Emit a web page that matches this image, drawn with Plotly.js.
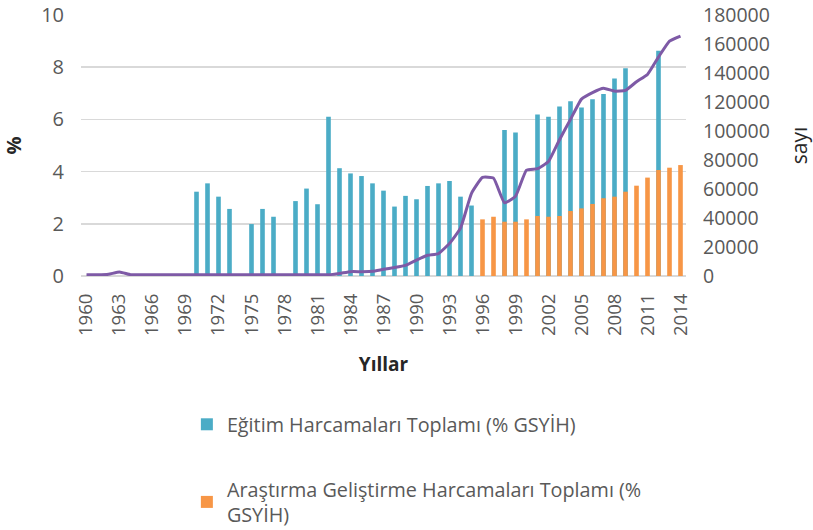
<!DOCTYPE html>
<html>
<head>
<meta charset="utf-8">
<script src="https://cdn.plot.ly/plotly-3.0.1.min.js"></script>
<style>
  html, body { margin: 0; padding: 0; background: #ffffff; }
  #chart { width: 813px; height: 530px; }
</style>
</head>
<body>
<div id="chart"></div>
<script>
// ---- data ----
const years = [
  1960, 1961, 1962, 1963, 1964, 1965, 1966, 1967, 1968, 1969,
  1970, 1971, 1972, 1973, 1974, 1975, 1976, 1977, 1978, 1979,
  1980, 1981, 1982, 1983, 1984, 1985, 1986, 1987, 1988, 1989,
  1990, 1991, 1992, 1993, 1994, 1995, 1996, 1997, 1998, 1999,
  2000, 2001, 2002, 2003, 2004, 2005, 2006, 2007, 2008, 2009,
  2010, 2011, 2012, 2013, 2014
];

// Eğitim Harcamaları Toplamı (% GSYİH)
const egitim = [
  null, null, null, null, null, null, null, null, null, null,
  3.23, 3.55, 3.04, 2.57, null, 1.99, 2.57, 2.27, null, 2.87,
  3.35, 2.75, 6.10, 4.13, 3.93, 3.83, 3.55, 3.27, 2.66, 3.07,
  2.94, 3.45, 3.55, 3.64, 3.04, 2.70, null, null, 5.59, 5.50,
  null, 6.19, 6.10, 6.49, 6.70, 6.46, 6.77, 6.97, 7.57, 7.96,
  null, null, 8.63, null, null
];

// Araştırma Geliştirme Harcamaları Toplamı (% GSYİH)
const arge = [
  null, null, null, null, null, null, null, null, null, null,
  null, null, null, null, null, null, null, null, null, null,
  null, null, null, null, null, null, null, null, null, null,
  null, null, null, null, null, null, 2.17, 2.27, 2.08, 2.08,
  2.17, 2.30, 2.27, 2.30, 2.49, 2.59, 2.76, 2.98, 3.04, 3.23,
  3.46, 3.77, 4.06, 4.15, 4.25
];

// sayı (right axis)
const sayi = [
  800, 800, 1200, 2800, 900, 800, 800, 800, 800, 800,
  800, 800, 800, 800, 800, 800, 800, 800, 800, 800,
  800, 800, 900, 1800, 3000, 3000, 3200, 4600, 5800, 7300,
  11000, 14300, 15500, 22500, 33000, 57000, 68000, 67500, 50500, 55000,
  73000, 74000, 79000, 94000, 108000, 122000, 126500, 129500, 127500, 128000,
  134000, 139000, 151000, 162000, 165500
];

const nameEgitim = 'Eğitim Harcamaları Toplamı (% GSYİH)';
const nameArge = 'Araştırma Geliştirme Harcamaları Toplamı (%<br>GSYİH)';
const nameSayi = 'sayı';

// ---- chart ----
const FONT = '"Open Sans", "Liberation Sans", sans-serif';
const TICKCOL = '#595959';
const TITLECOL = '#262626';

const traces = [
  {
    type: 'bar', x: years, y: egitim, name: nameEgitim,
    marker: { color: '#4BACC6' }, width: 0.42,
    legendgroup: 'a', yaxis: 'y'
  },
  {
    type: 'bar', x: years, y: arge, name: nameArge,
    marker: { color: '#F79646' }, width: 0.42,
    legendgroup: 'b', yaxis: 'y'
  },
  {
    type: 'scatter', mode: 'lines', x: years, y: sayi, name: nameSayi,
    line: { color: '#7E5AA6', width: 3, shape: 'spline', smoothing: 0.4 },
    yaxis: 'y2', showlegend: false, connectgaps: true
  }
];

const layout = {
  width: 813, height: 530,
  margin: { l: 81, r: 127, t: 15, b: 254, autoexpand: false },
  paper_bgcolor: '#ffffff', plot_bgcolor: '#ffffff',
  font: { family: FONT, size: 18, color: TICKCOL },
  barmode: 'overlay',
  xaxis: {
    range: [1959.5, 2014.5],
    tickmode: 'linear', tick0: 1960, dtick: 3,
    tickangle: -90,
    showgrid: false, zeroline: false,
    showline: false, ticks: '',
    ticklabelstandoff: 13,
    automargin: false,
    tickfont: { family: FONT, size: 18.5, color: TICKCOL },
    title: { text: 'Yıllar', font: { family: FONT, size: 19, color: TITLECOL, weight: 'bold' }, standoff: 22 }
  },
  yaxis: {
    range: [0, 10], dtick: 2,
    showgrid: true, gridcolor: '#D9D9D9', gridwidth: 1.5,
    zeroline: true, zerolinecolor: '#D9D9D9', zerolinewidth: 1.5,
    ticks: '', ticklabelstandoff: 16,
    automargin: false,
    tickfont: { family: FONT, size: 20, color: TICKCOL },
    title: { text: '%', font: { family: FONT, size: 20, color: TITLECOL, weight: 'bold' }, standoff: 14 }
  },
  yaxis2: {
    overlaying: 'y', side: 'right',
    range: [0, 180000], dtick: 20000, tickformat: 'd',
    showgrid: false, zeroline: false, ticks: '',
    ticklabelstandoff: 16,
    automargin: false,
    tickfont: { family: FONT, size: 19.5, color: TICKCOL },
    title: { text: 'sayı', font: { family: FONT, size: 21, color: TITLECOL }, standoff: 27 }
  },
  showlegend: true,
  legend: {
    orientation: 'v',
    x: 0.175, xanchor: 'left',
    yref: 'container',
    y: 0.236, yanchor: 'top',
    tracegroupgap: 36,
    font: { family: FONT, size: 19.8, color: TICKCOL },
    bgcolor: 'rgba(0,0,0,0)'
  }
};

Plotly.newPlot('chart', traces, layout, { displayModeBar: false, staticPlot: true });
</script>
</body>
</html>
